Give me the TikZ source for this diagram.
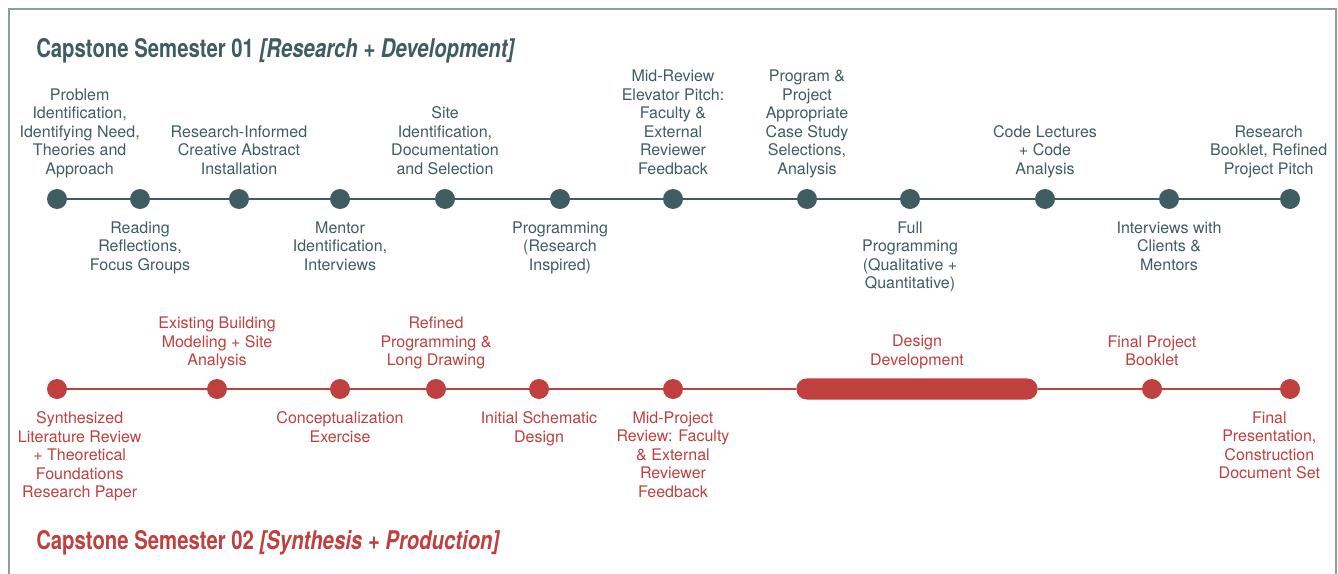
\documentclass[tikz,border=0pt]{standalone}
\usepackage{fontspec}
\setmainfont{TeX Gyre Heros}
\newfontfamily\headfont[FakeStretch=0.79]{TeX Gyre Heros}
\usetikzlibrary{positioning}

\definecolor{semteal}{HTML}{3F5D61}
\definecolor{semred}{HTML}{BF403E}
\definecolor{framegray}{HTML}{8A9E9F}

\tikzset{
  mile/.style={circle, fill=#1, minimum size=15pt, inner sep=0pt},
  bar/.style={fill=#1, rounded corners=7.8pt, minimum width=181pt,
    minimum height=15.8pt, inner sep=0pt},
  lane/.style={draw=#1, line width=1.2pt},
  tag/.style={align=center, inner sep=0pt, text=#1,
    font=\fontsize{12pt}{13.9pt}\selectfont},
  uptag/.style={tag=#1, text depth=0pt},
  heading/.style={inner sep=0pt, text=#1,
    font=\headfont\fontsize{19.3pt}{22pt}\selectfont\bfseries}
}

\begin{document}
\begin{tikzpicture}[x=0.75pt, y=-0.75pt]
  \useasboundingbox (0,0) rectangle (1338,574);
  % frame
  \draw[framegray, line width=1.1pt] (9,574) -- (9,9) -- (1336,9) -- (1336,574);

  % semester 01
  \node[heading=semteal, anchor=base west] (title1) at (36,57.5)
    {Capstone Semester 01 \textit{[Research + Development]}};
  \foreach \n/\x in {1/57, 2/140, 3/239, 4/340, 5/445, 6/560,
                     7/673, 8/807, 9/910, 10/1045, 11/1169, 12/1290}
    \node[mile=semteal] (t\n) at (\x,199) {};
  \foreach \a [count=\b from 2] in {1,...,11}
    \draw[lane=semteal] (t\a) -- (t\b);

  \node[uptag=semteal, above=10.5pt of t1, xshift=17pt] (l1)
    {Problem\\Identification,\\Identifying Need,\\Theories and\\Approach};
  \node[tag=semteal, below=9pt of t2] (l2) {Reading\\Reflections,\\Focus Groups};
  \node[uptag=semteal, above=10.5pt of t3] (l3)
    {Research-Informed\\Creative Abstract\\Installation};
  \node[tag=semteal, below=9pt of t4] (l4) {Mentor\\Identification,\\Interviews};
  \node[uptag=semteal, above=10.5pt of t5] (l5)
    {Site\\Identification,\\Documentation\\and Selection};
  \node[tag=semteal, below=9pt of t6] (l6) {Programming\\(Research\\Inspired)};
  \node[uptag=semteal, above=10.5pt of t7] (l7)
    {Mid-Review\\Elevator Pitch:\\Faculty \&\\External\\Reviewer\\Feedback};
  \node[uptag=semteal, above=10.5pt of t8] (l8)
    {Program \&\\Project\\Appropriate\\Case Study\\Selections,\\Analysis};
  \node[tag=semteal, below=9pt of t9] (l9)
    {Full\\Programming\\(Qualitative +\\Quantitative)};
  \node[uptag=semteal, above=10.5pt of t10] (l10) {Code Lectures\\+ Code\\Analysis};
  \node[tag=semteal, below=9pt of t11] (l11) {Interviews with\\Clients \&\\Mentors};
  \node[uptag=semteal, above=10.5pt of t12, xshift=-16pt] (l12)
    {Research\\Booklet, Refined\\Project Pitch};

  % semester 02
  \node[heading=semred, anchor=base west] (title2) at (36,549)
    {Capstone Semester 02 \textit{[Synthesis + Production]}};
  \foreach \n/\x in {1/57, 2/217, 3/340, 4/436, 5/539, 6/673, 8/1152, 9/1290}
    \node[mile=semred] (b\n) at (\x,389) {};
  \node[bar=semred] (b7) at (917,389) {};
  \foreach \a [count=\b from 2] in {1,...,8}
    \draw[lane=semred] (b\a) -- (b\b);

  \node[tag=semred, below=9pt of b1, xshift=17pt] (m1)
    {Synthesized\\Literature Review\\+ Theoretical\\Foundations\\Research Paper};
  \node[uptag=semred, above=9.5pt of b2] (m2)
    {Existing Building\\Modeling + Site\\Analysis};
  \node[tag=semred, below=9pt of b3] (m3) {Conceptualization\\Exercise};
  \node[uptag=semred, above=9.5pt of b4] (m4)
    {Refined\\Programming \&\\Long Drawing};
  \node[tag=semred, below=9pt of b5] (m5) {Initial Schematic\\Design};
  \node[tag=semred, below=9pt of b6] (m6)
    {Mid-Project\\Review: Faculty\\\& External\\Reviewer\\Feedback};
  \node[uptag=semred, above=9.5pt of b7] (m7) {Design\\Development};
  \node[uptag=semred, above=9.5pt of b8] (m8) {Final Project\\Booklet};
  \node[tag=semred, below=9pt of b9, xshift=-15.5pt] (m9)
    {Final\\Presentation,\\Construction\\Document Set};
\end{tikzpicture}
\end{document}
